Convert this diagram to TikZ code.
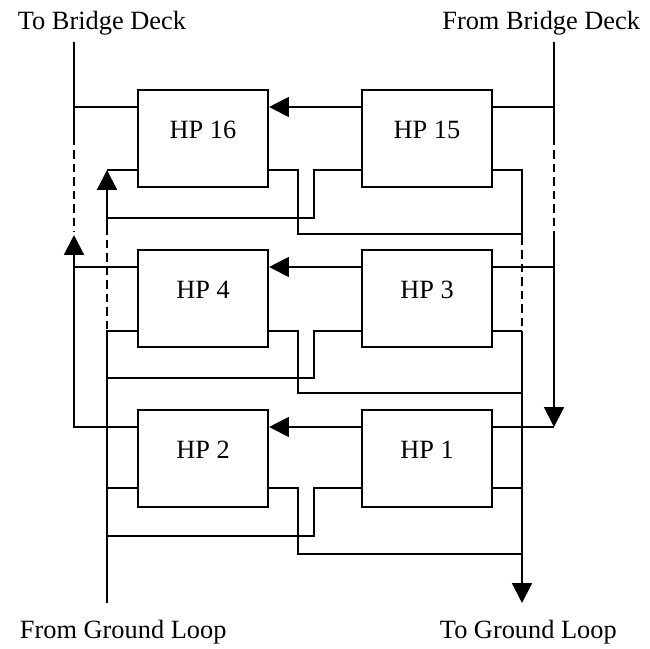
\documentclass[tikz,border=0pt]{standalone}
\usepackage{fontspec}
\setmainfont{Liberation Serif}
\usetikzlibrary{arrows.meta}

\begin{document}
\begin{tikzpicture}[x=0.03cm, y=-0.03cm, line width=1.8pt,
  every node/.style={font=\fontsize{22.5}{27}\selectfont},
  hpbox/.style={draw, minimum width=3.9cm, minimum height=2.91cm, inner sep=0pt},
  flow/.style={-{Triangle[length=17pt,width=17pt]}},
  gap/.style={dash pattern=on 7pt off 4.5pt}]
\useasboundingbox (0,0) rectangle (650,648);
% labels
\node[anchor=base west] (tobridge) at (13,29.5) {To Bridge Deck};
\node[anchor=base east] (frombridge) at (645,29.5) {From Bridge Deck};
\node[anchor=base west] (fromground) at (15,638) {From Ground Loop};
\node[anchor=base west] (toground) at (435,638) {To Ground Loop};
% heat pumps
\node[hpbox] (hp16) at (203,138.5) {};
\node[hpbox] (hp15) at (427,138.5) {};
\node[hpbox] (hp4) at (203,298.5) {};
\node[hpbox] (hp3) at (427,298.5) {};
\node[hpbox] (hp2) at (203,458.5) {};
\node[hpbox] (hp1) at (427,458.5) {};
\node[anchor=base] (t16) at (hp16.center) {HP 16};
\node[anchor=base] (t15) at (hp15.center) {HP 15};
\node[anchor=base] (t4) at (hp4.center) {HP 4};
\node[anchor=base] (t3) at (hp3.center) {HP 3};
\node[anchor=base] (t2) at (hp2.center) {HP 2};
\node[anchor=base] (t1) at (hp1.center) {HP 1};
% bus ends
\coordinate (lt) at (74,42);
\coordinate (rt) at (554,42);
\coordinate (gin) at (107,603);
\coordinate (gout) at (522,603);
% to bridge deck
\draw (lt) -- (lt |- 0,137);
\draw[gap] (lt |- 0,137) -- (lt |- 0,232);
\draw[flow] (hp2.west |- 0,427) -| (lt |- 0,235);
\draw (hp4.west |- 0,267) -- (lt |- 0,267);
\draw (hp16.west |- 0,107) -- (lt |- 0,107);
% from bridge deck
\draw (rt) -- (rt |- 0,137);
\draw[gap] (rt |- 0,137) -- (rt |- 0,232);
\draw[flow] (rt |- 0,232) -- (rt |- 0,427);
\draw (rt |- 0,427) -- (hp1.east |- 0,427);
\draw (hp3.east |- 0,267) -- (rt |- 0,267);
\draw (hp15.east |- 0,107) -- (rt |- 0,107);
% unit to unit
\draw[flow] (hp15.west |- 0,107) -- (hp16.east |- 0,107);
\draw[flow] (hp3.west |- 0,267) -- (hp4.east |- 0,267);
\draw[flow] (hp1.west |- 0,427) -- (hp2.east |- 0,427);
% from ground loop
\draw (gin) |- (hp4.west |- 0,331);
\draw[gap] (gin |- 0,329) -- (gin |- 0,232);
\draw[flow] (gin |- 0,234) -- (gin |- 0,170);
\draw (gin |- 0,170) -- (hp16.west |- 0,170);
\draw (gin |- 0,488) -- (hp2.west |- 0,488);
\draw (hp15.west |- 0,170) -| (314,218) -- (gin |- 0,218);
\draw (hp3.west |- 0,331) -| (314,378) -- (gin |- 0,378);
\draw (hp1.west |- 0,488) -| (314,536) -- (gin |- 0,536);
% to ground loop
\draw[flow] (gout |- 0,331) -- (gout);
\draw[gap] (gout |- 0,237) -- (gout |- 0,331);
\draw (hp15.east |- 0,170) -| (gout |- 0,237);
\draw (hp3.east |- 0,331) -- (gout |- 0,331);
\draw (hp1.east |- 0,488) -- (gout |- 0,488);
\draw (hp16.east |- 0,170) -| (298,234) -- (gout |- 0,234);
\draw (hp4.east |- 0,331) -| (298,393) -- (gout |- 0,393);
\draw (hp2.east |- 0,488) -| (298,554) -- (gout |- 0,554);
\end{tikzpicture}
\end{document}
